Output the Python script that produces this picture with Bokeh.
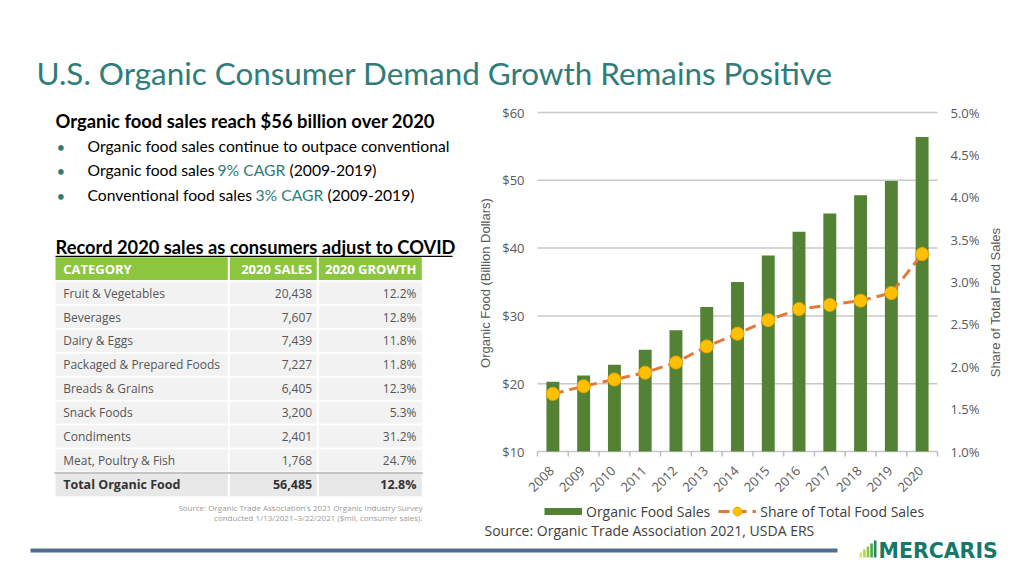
import math
from bokeh.plotting import figure
from bokeh.models import Range1d, Legend, LegendItem
from bokeh.embed import file_html
from bokeh.resources import INLINE
from bokeh.core.properties import value

# ---------------- data ----------------
years = ["2008", "2009", "2010", "2011", "2012", "2013", "2014",
         "2015", "2016", "2017", "2018", "2019", "2020"]
organic_sales = [20.3, 21.2, 22.8, 25.0, 27.9, 31.3, 35.0, 38.9, 42.4, 45.1, 47.8, 49.9, 56.4]
share_total = [1.68, 1.77, 1.85, 1.93, 2.05, 2.24, 2.39, 2.55, 2.68, 2.73, 2.78, 2.87, 3.33]
left_ticks = [10, 20, 30, 40, 50, 60]
right_ticks = [1.0, 1.5, 2.0, 2.5, 3.0, 3.5, 4.0, 4.5, 5.0]

table_header = ["CATEGORY", "2020 SALES", "2020 GROWTH"]
table_categories = ["Fruit & Vegetables", "Beverages", "Dairy & Eggs", "Packaged & Prepared Foods",
                    "Breads & Grains", "Snack Foods", "Condiments", "Meat, Poultry & Fish"]
table_sales = [20438, 7607, 7439, 7227, 6405, 3200, 2401, 1768]
table_growth = [12.2, 12.8, 11.8, 11.8, 12.3, 5.3, 31.2, 24.7]
total_label = "Total Organic Food"
total_sales = 56485
total_growth = 12.8

TEAL = "#2E7D7A"
GREEN = "#548235"
ORANGE = "#E07A36"
GOLD = "#FFC000"
GREY_TXT = "#595959"
LATO = value("Lato")
OPEN = value("Open Sans")
ARIAL = value("Liberation Sans")

# ---------------- canvas: page-pixel coordinates ----------------
W, H = 1016, 568
OX, OY = 0, 0                                  # page offset of the canvas
p = figure(width=W, height=H, x_range=Range1d(OX, OX + W), y_range=Range1d(OY + H, OY),
           output_backend="svg", toolbar_location=None, min_border=0,
           x_axis_location=None, y_axis_location=None)
p.grid.visible = False
p.outline_line_color = None
p.background_fill_color = "white"
p.border_fill_color = "white"

# chart plotting area (page pixels) and its data scales
FL, FR, FT, FB = 537, 937, 112, 451
XMIN, XMAX = -0.5, len(years) - 0.5
kx = (XMAX - XMIN) / (FR - FL)


def yr(lo, hi):
    ky = (hi - lo) / (FB - FT)
    return Range1d(lo - (OY + H - FB) * ky, hi + (FT - OY) * ky)


p.extra_x_ranges = {"cx": Range1d(XMIN - (FL - OX) * kx, XMAX + (OX + W - FR) * kx)}
p.extra_y_ranges = {"sales": yr(left_ticks[0], left_ticks[-1]),
                    "share": yr(right_ticks[0], right_ticks[-1])}

xs = list(range(len(years)))

# grid lines and x axis line
p.segment(x0=[XMIN] * len(left_ticks), x1=[XMAX] * len(left_ticks), y0=left_ticks, y1=left_ticks,
          x_range_name="cx", y_range_name="sales", line_color="#C8C8C8", line_width=1.5)
bounds = [i - 0.5 for i in range(len(years) + 1)]
p.segment(x0=bounds, x1=bounds, y0=[FB] * len(bounds), y1=[FB + 5] * len(bounds),
          x_range_name="cx", line_color="#BFBFBF", line_width=1.5)

# bars, share line, markers
p.vbar(x=xs, top=organic_sales, bottom=left_ticks[0], width=0.42, x_range_name="cx",
       y_range_name="sales", fill_color=GREEN, line_color=None)
line_r = p.line(x=xs, y=share_total, x_range_name="cx", y_range_name="share",
                line_color=ORANGE, line_width=3, line_dash="11 6")
scat_r = p.scatter(x=xs, y=share_total, x_range_name="cx", y_range_name="share", size=13,
                   fill_color=GOLD, line_color="#F2A600", line_width=1)
bar_key = p.line(x=[float("nan")] * 2, y=[float("nan")] * 2, line_color=GREEN, line_width=7)

# tick labels
p.text(x=[FL - 13] * len(left_ticks), y=left_ticks, text=[f"${t}" for t in left_ticks],
       y_range_name="sales", text_font=OPEN, text_font_size="13px", text_color=GREY_TXT,
       text_align="right", text_baseline="middle")
p.text(x=[FR + 13] * len(right_ticks), y=right_ticks, text=[f"{t:.1f}%" for t in right_ticks],
       y_range_name="share", text_font=OPEN, text_font_size="13px", text_color=GREY_TXT,
       text_align="left", text_baseline="middle")
p.text(x=xs, y=[FB + 17] * len(xs), text=years, x_range_name="cx", angle=math.pi / 4,
       x_offset=-1, text_font=OPEN, text_font_size="13px", text_color=GREY_TXT,
       text_align="right", text_baseline="middle")

# axis titles
p.text(x=[485], y=[(FT + FB) / 2 + 1], text=["Organic Food (Billion Dollars)"], angle=math.pi / 2,
       text_font=ARIAL, text_font_size="13px", text_color=GREY_TXT,
       text_align="center", text_baseline="middle")
p.text(x=[995], y=[302], text=["Share of Total Food Sales"], angle=math.pi / 2,
       text_font=ARIAL, text_font_size="13px", text_color=GREY_TXT,
       text_align="center", text_baseline="middle")

legend = Legend(items=[LegendItem(label="Organic Food Sales", renderers=[bar_key]),
                       LegendItem(label="Share of Total Food Sales", renderers=[line_r, scat_r])],
                orientation="horizontal", location=(544 - OX, OY + H - 522),
                glyph_width=38, glyph_height=22, label_standoff=4, spacing=8, padding=0, margin=0,
                border_line_color=None, background_fill_alpha=0,
                label_text_font="Open Sans", label_text_font_size="14px", label_text_color="#404040")
p.add_layout(legend)

p.text(x=[484], y=[530], text=["Source: Organic Trade Association 2021, USDA ERS"],
       text_font=OPEN, text_font_size="14px", text_color="#404040", text_baseline="middle")


# ---------------- slide title & left text ----------------
def txt(x, y, s, size, color, font=LATO, style="normal", align="left", baseline="middle"):
    p.text(x=[x], y=[y], text=[s], text_font=font, text_font_size=f"{size}px", text_font_style=style,
           text_color=color, text_align=align, text_baseline=baseline)


txt(36, 72, "U.S. Organic Consumer Demand Growth Remains Positive", 31.4, TEAL)
txt(55, 120, "Organic food sales reach $56 billion over 2020", 18.4, "black", style="bold")
for yc in [146, 170, 195]:
    txt(56, yc, "\u2022", 15, TEAL)
txt(87, 145.5, "Organic food sales continue to outpace conventional", 15.7, "black")
txt(87, 169.5, "Organic food sales", 15.7, "black")
txt(217, 169.5, "9% CAGR", 15.7, TEAL)
txt(289, 169.5, "(2009-2019)", 15.7, "black")
txt(87, 194.5, "Conventional food sales", 15.7, "black")
txt(255, 194.5, "3% CAGR", 15.7, TEAL)
txt(327, 194.5, "(2009-2019)", 15.7, "black")
txt(55, 246.6, "Record 2020 sales as consumers adjust to COVID", 18.3, "black", style="bold")
p.quad(left=[55], right=[452], top=[255.2], bottom=[256.6], fill_color="black", line_color=None)

# ---------------- table ----------------
col_l = [54, 228.3, 317.3]
col_r = [228.3, 317.3, 422.3]
head_top, head_bot = 256.7, 279.6
row_top0, row_h = 280.7, 23.9
n = len(table_categories)

p.quad(left=[c + 1 for c in col_l], right=[c - 1 for c in col_r], top=[head_top] * 3,
       bottom=[head_bot] * 3, fill_color="#8CC63F", line_color=None)
L, R, T, B = [], [], [], []
for i in range(n):
    for c in range(3):
        L.append(col_l[c] + 1)
        R.append(col_r[c] - 1)
        T.append(row_top0 + i * row_h + 1)
        B.append(row_top0 + (i + 1) * row_h - 1)
p.quad(left=L, right=R, top=T, bottom=B, fill_color="#F2F2F2", line_color=None)
tot_top = row_top0 + n * row_h
tot_bot = tot_top + row_h
p.quad(left=[c + 1 for c in col_l], right=[c - 1 for c in col_r], top=[tot_top + 1] * 3,
       bottom=[tot_bot] * 3, fill_color="#E8E8E8", line_color=None)
p.quad(left=[col_l[0]], right=[col_r[2]], top=[tot_top - 0.5], bottom=[tot_top + 1.5],
       fill_color="#C4C4C4", line_color=None)

hy = (head_top + head_bot) / 2 + 0.5
txt(62.7, hy, table_header[0], 13, "white", font=OPEN, style="bold")
txt(311.7, hy, table_header[1], 13, "white", font=OPEN, style="bold", align="right")
txt(416, hy, table_header[2], 13, "white", font=OPEN, style="bold", align="right")

row_y = [row_top0 + (i + 0.5) * row_h for i in range(n)]
p.text(x=[62.7] * n, y=row_y, text=table_categories, text_font=OPEN, text_font_size="12px",
       text_color="#555555", text_align="left", text_baseline="middle")
p.text(x=[311.7] * n, y=row_y, text=[f"{v:,}" for v in table_sales], text_font=OPEN,
       text_font_size="12px", text_color="#555555", text_align="right", text_baseline="middle")
p.text(x=[416] * n, y=row_y, text=[f"{v:.1f}%" for v in table_growth], text_font=OPEN,
       text_font_size="12px", text_color="#555555", text_align="right", text_baseline="middle")
ty = (tot_top + tot_bot) / 2
txt(62.7, ty, total_label, 12.5, "#333333", font=OPEN, style="bold")
txt(311.7, ty, f"{total_sales:,}", 12.5, "#333333", font=OPEN, style="bold", align="right")
txt(416, ty, f"{total_growth:.1f}%", 12.5, "#333333", font=OPEN, style="bold", align="right")

txt(422, 507, "Source: Organic Trade Association's 2021 Organic Industry Survey", 8, "#9A9A9A",
    font=OPEN, align="right")
txt(422, 517, "conducted 1/13/2021\u20133/22/2021 ($mil, consumer sales).", 8, "#9A9A9A",
    font=OPEN, align="right")

# ---------------- footer ----------------
p.quad(left=[30], right=[837], top=[548], bottom=[552], fill_color="#4F6F8F", line_color=None)
logo_cols = ["#D9E65A", "#B5D443", "#8CC63F", "#4FA64A", "#1F8A5E"]
p.quad(left=[859 + 3.6 * k for k in range(5)], right=[861.6 + 3.6 * k for k in range(5)],
       top=[552 - 3 * k for k in range(5)], bottom=[557] * 5, fill_color=logo_cols, line_color=None)
txt(878, 550, "MERCARIS", 20.5, "#17786A", font=value("DejaVu Sans"), style="bold")

open("out.html", "w").write(file_html(p, INLINE))
